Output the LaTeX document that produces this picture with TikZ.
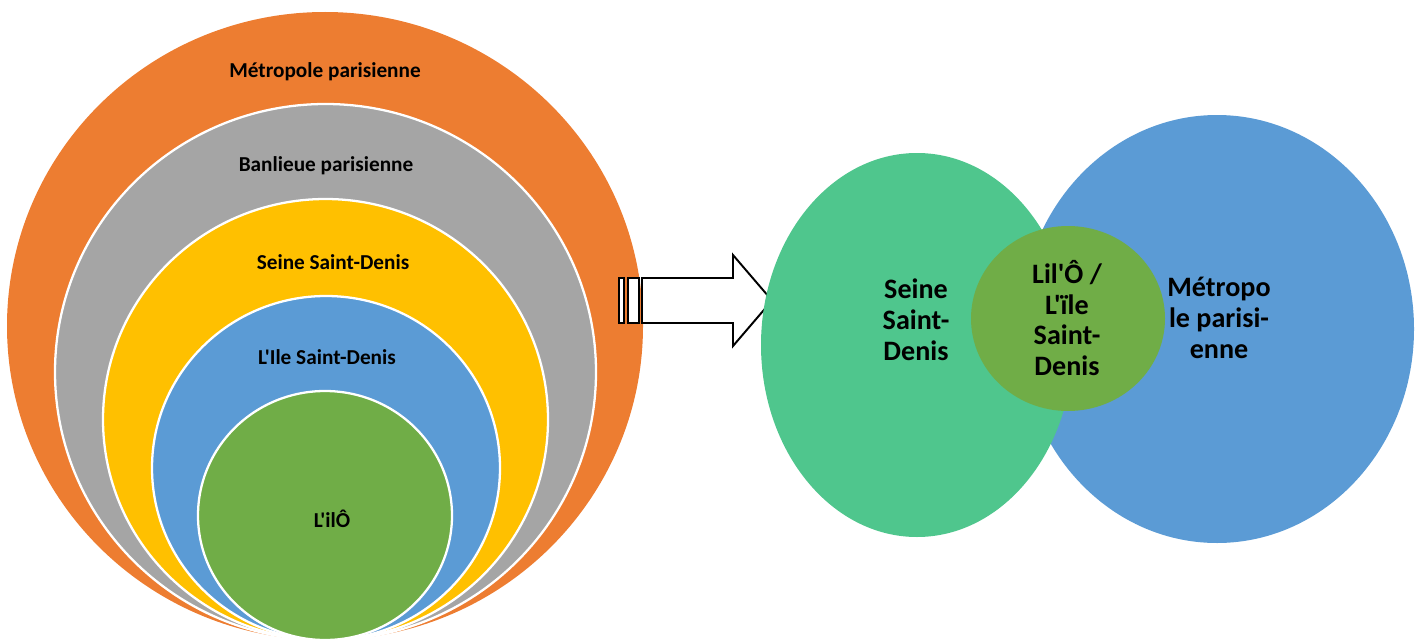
\documentclass[tikz,border=0pt]{standalone}
\usepackage{fontspec}
\newfontfamily\calib{Carlito}
\usetikzlibrary{positioning}
\definecolor{metro}{HTML}{ED7D31}
\definecolor{banlieue}{HTML}{A5A5A5}
\definecolor{seine}{HTML}{FFC000}
\definecolor{ile}{HTML}{5B9BD5}
\definecolor{ilo}{HTML}{70AD47}
\definecolor{seinegreen}{HTML}{4FC68D}
\tikzset{
  my ring/.style={
    fill=#1,
    draw=white,
    line width=1.3pt
  },
  small label/.style={
    font=\calib\bfseries\fontsize{12.1}{14.5}\selectfont,
    inner sep=0pt
  },
  big label/.style={
    font=\calib\bfseries\fontsize{16}{17.6}\selectfont,
    align=center,
    inner sep=0pt
  },
  my arrow/.style={
    draw=black,
    fill=white,
    line width=1.1pt,
    line join=miter
  }
}

\begin{document}
\begin{tikzpicture}[x=0.02cm,y=-0.02cm]
\useasboundingbox (0,0) rectangle (1419,642);
% nested rings, all touching at the bottom
\fill[metro] (325,326) ellipse [x radius=318, y radius=314];
\draw[my ring=banlieue] (325.5,372) ellipse [x radius=270.5, y radius=268];
\draw[my ring=seine] (325.5,419.5) ellipse [x radius=222.5, y radius=220.5];
\draw[my ring=ile] (326,468) ellipse [x radius=174, y radius=172];
\draw[my ring=ilo] (325,515.5) ellipse [x radius=127, y radius=124.5];
\node[small label] (metroTxt) at (325,72) {Métropole parisienne};
\node[small label] (banlieueTxt) at (326,166) {Banlieue parisienne};
\node[small label] (seineTxt) at (333,262) {Seine Saint-Denis};
\node[small label] (ileTxt) at (327,357) {L'Ile Saint-Denis};
\node[small label] (iloTxt) at (332,519) {L'ilÔ};
% striped block arrow
\draw[my arrow] (619,278) rectangle (624,323);
\draw[my arrow] (628,278) rectangle (639,323);
\draw[my arrow] (642,278) -- (733,278) -- (733,255) -- (772,300.5)
  -- (733,346) -- (733,323) -- (642,323) -- cycle;
% overlapping territories
\fill[ile] (1217,329) ellipse [x radius=197, y radius=214];
\fill[seinegreen] (917,345) ellipse [x radius=156, y radius=192];
\fill[ilo] (1068,318.5) ellipse [x radius=97, y radius=92.5];
\node[big label] (seineBig) at (916,320) {Seine\\Saint-\\Denis};
\node[big label] (iloBig) at (1067,318) {Lil'Ô /\\L'ïle\\Saint-\\Denis};
\node[big label] (metroBig) at (1219,318) {Métropo\\le parisi-\\enne};
\end{tikzpicture}
\end{document}
